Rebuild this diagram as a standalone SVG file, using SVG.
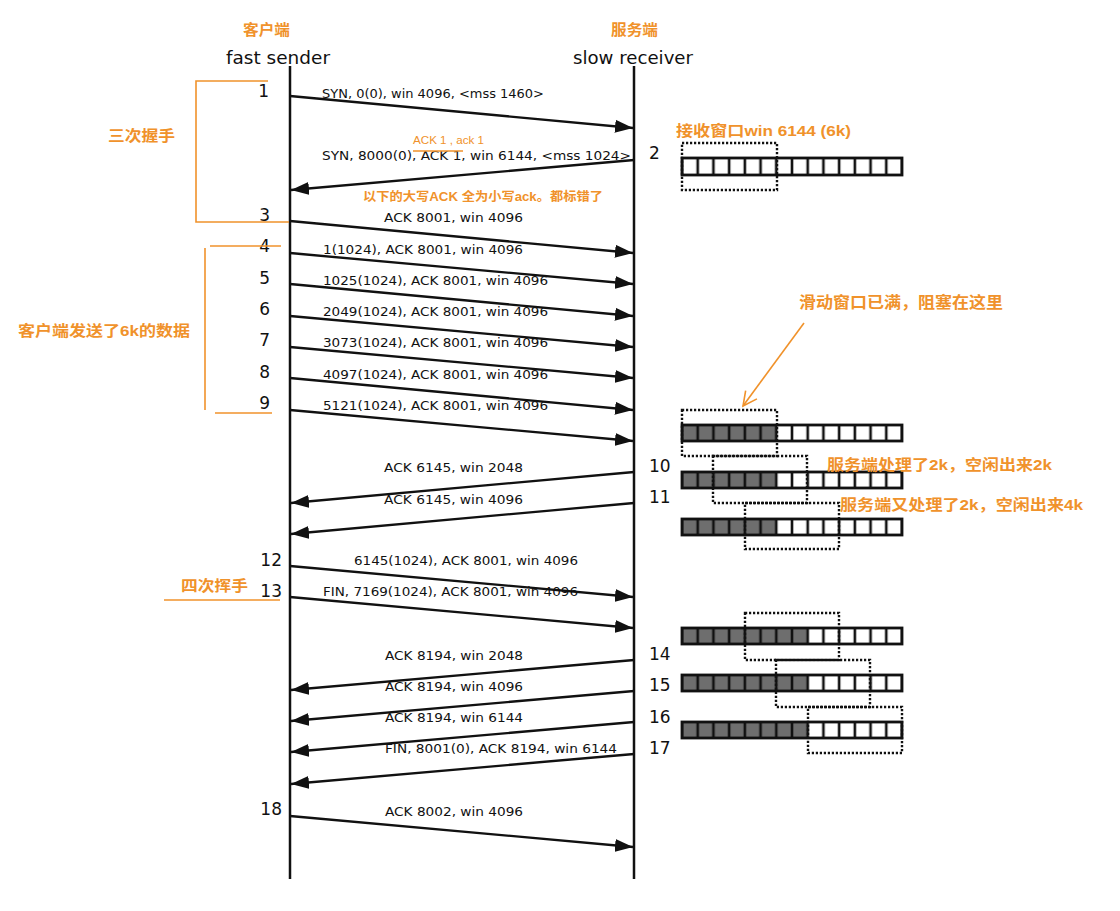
<svg xmlns="http://www.w3.org/2000/svg" width="1120" height="911" viewBox="0 0 1120 911">
<style>
.lbl{font-family:"DejaVu Sans","Liberation Sans",sans-serif;font-size:12px;fill:#111}
.num{font-family:"DejaVu Sans","Liberation Sans",sans-serif;font-size:17px;fill:#111}
.hdr{font-family:"DejaVu Sans","Liberation Sans",sans-serif;font-size:17px;fill:#111}
.or{font-family:"Liberation Sans","Noto Sans CJK SC",sans-serif;font-weight:bold;fill:#F0922B}
.orn{font-family:"Liberation Sans","Noto Sans CJK SC",sans-serif;font-weight:normal;fill:#F0922B}
.ln{stroke:#111;stroke-width:2.5;fill:none}
.msg{stroke:#111;stroke-width:2.3;fill:none;marker-end:url(#ah)}
.orl{stroke:#F0922B;stroke-width:1.6;fill:none}
.win{fill:none;stroke:#111;stroke-width:2.4;stroke-dasharray:2.2 1.8}
.bufo{fill:none;stroke:#111;stroke-width:2.8}
</style>
<defs>
<marker id="ah" markerUnits="userSpaceOnUse" markerWidth="19" markerHeight="14" refX="18" refY="7" orient="auto">
<path d="M0,0.5 L18,7 L0,13.5 z" fill="#111"/>
</marker>
<marker id="oah" markerUnits="userSpaceOnUse" markerWidth="20" markerHeight="20" refX="16" refY="10" orient="auto">
<path d="M2,3 L16,10 L2,17" fill="none" stroke="#F0922B" stroke-width="1.6"/>
</marker>
<pattern id="cW" patternUnits="userSpaceOnUse" x="682" y="0" width="15.714" height="911">
<rect width="15.714" height="911" fill="#fff"/>
<rect x="0" width="1.3" height="911" fill="#111"/>
<rect x="14.414" width="1.3" height="911" fill="#111"/>
</pattern>
<pattern id="cG" patternUnits="userSpaceOnUse" x="682" y="0" width="15.714" height="911">
<rect width="15.714" height="911" fill="#6e6e6e"/>
<rect x="0" width="1.3" height="911" fill="#111"/>
<rect x="14.414" width="1.3" height="911" fill="#111"/>
</pattern>
</defs>
<rect width="1120" height="911" fill="#fff"/>

<g id="client">
<text class="or" x="243" y="35" font-size="15" textLength="47" lengthAdjust="spacingAndGlyphs">客户端</text>
<text class="hdr" x="226" y="64" textLength="104" lengthAdjust="spacingAndGlyphs">fast sender</text>
<line class="ln" x1="290" y1="66" x2="290" y2="879"/>
</g>
<g id="server">
<text class="or" x="611" y="35" font-size="15" textLength="47" lengthAdjust="spacingAndGlyphs">服务端</text>
<text class="hdr" x="573" y="64" textLength="120" lengthAdjust="spacingAndGlyphs">slow receiver</text>
<line class="ln" x1="634" y1="66" x2="634" y2="879"/>
</g>

<g id="connectors">
<line class="msg" x1="290" y1="96" x2="633" y2="128"/>
<line class="msg" x1="634" y1="160" x2="291" y2="190"/>
<line class="msg" x1="290" y1="221" x2="633" y2="253"/>
<line class="msg" x1="290" y1="253" x2="633" y2="284"/>
<line class="msg" x1="290" y1="284" x2="633" y2="316"/>
<line class="msg" x1="290" y1="316" x2="633" y2="347"/>
<line class="msg" x1="290" y1="347" x2="633" y2="378"/>
<line class="msg" x1="290" y1="378" x2="633" y2="410"/>
<line class="msg" x1="290" y1="410" x2="633" y2="441"/>
<line class="msg" x1="634" y1="472" x2="291" y2="503"/>
<line class="msg" x1="634" y1="503" x2="291" y2="534"/>
<line class="msg" x1="290" y1="566" x2="633" y2="597"/>
<line class="msg" x1="290" y1="597" x2="633" y2="628"/>
<line class="msg" x1="634" y1="660" x2="291" y2="690"/>
<line class="msg" x1="634" y1="691" x2="291" y2="721"/>
<line class="msg" x1="634" y1="722" x2="291" y2="752"/>
<line class="msg" x1="634" y1="754" x2="291" y2="784"/>
<line class="msg" x1="290" y1="816" x2="633" y2="847"/>
</g>

<g id="message-labels">
<text class="lbl" x="322" y="98" textLength="222" lengthAdjust="spacingAndGlyphs">SYN, 0(0), win 4096, &lt;mss 1460&gt;</text>
<text class="lbl" x="322" y="160" textLength="309" lengthAdjust="spacingAndGlyphs">SYN, 8000(0), ACK 1, win 6144, &lt;mss 1024&gt;</text>
<text class="lbl" x="384" y="222" textLength="139" lengthAdjust="spacingAndGlyphs">ACK 8001, win 4096</text>
<text class="lbl" x="323" y="254" textLength="200" lengthAdjust="spacingAndGlyphs">1(1024), ACK 8001, win 4096</text>
<text class="lbl" x="323" y="285" textLength="225" lengthAdjust="spacingAndGlyphs">1025(1024), ACK 8001, win 4096</text>
<text class="lbl" x="323" y="316" textLength="225" lengthAdjust="spacingAndGlyphs">2049(1024), ACK 8001, win 4096</text>
<text class="lbl" x="323" y="347" textLength="225" lengthAdjust="spacingAndGlyphs">3073(1024), ACK 8001, win 4096</text>
<text class="lbl" x="323" y="379" textLength="225" lengthAdjust="spacingAndGlyphs">4097(1024), ACK 8001, win 4096</text>
<text class="lbl" x="323" y="410" textLength="225" lengthAdjust="spacingAndGlyphs">5121(1024), ACK 8001, win 4096</text>
<text class="lbl" x="384" y="472" textLength="139" lengthAdjust="spacingAndGlyphs">ACK 6145, win 2048</text>
<text class="lbl" x="384" y="504" textLength="139" lengthAdjust="spacingAndGlyphs">ACK 6145, win 4096</text>
<text class="lbl" x="354" y="565" textLength="224" lengthAdjust="spacingAndGlyphs">6145(1024), ACK 8001, win 4096</text>
<text class="lbl" x="323" y="596" textLength="255" lengthAdjust="spacingAndGlyphs">FIN, 7169(1024), ACK 8001, win 4096</text>
<text class="lbl" x="385" y="660" textLength="138" lengthAdjust="spacingAndGlyphs">ACK 8194, win 2048</text>
<text class="lbl" x="385" y="691" textLength="138" lengthAdjust="spacingAndGlyphs">ACK 8194, win 4096</text>
<text class="lbl" x="385" y="722" textLength="138" lengthAdjust="spacingAndGlyphs">ACK 8194, win 6144</text>
<text class="lbl" x="385" y="753" textLength="232" lengthAdjust="spacingAndGlyphs">FIN, 8001(0), ACK 8194, win 6144</text>
<text class="lbl" x="385" y="816" textLength="138" lengthAdjust="spacingAndGlyphs">ACK 8002, win 4096</text>
</g>

<g id="step-numbers">
<text class="num" x="269" y="97" text-anchor="end">1</text>
<text class="num" x="649" y="159">2</text>
<text class="num" x="270" y="221" text-anchor="end">3</text>
<text class="num" x="270" y="252" text-anchor="end">4</text>
<text class="num" x="270" y="284" text-anchor="end">5</text>
<text class="num" x="270" y="315" text-anchor="end">6</text>
<text class="num" x="270" y="346" text-anchor="end">7</text>
<text class="num" x="270" y="378" text-anchor="end">8</text>
<text class="num" x="270" y="409" text-anchor="end">9</text>
<text class="num" x="649" y="472">10</text>
<text class="num" x="649" y="503">11</text>
<text class="num" x="282" y="566" text-anchor="end">12</text>
<text class="num" x="282" y="597" text-anchor="end">13</text>
<text class="num" x="649" y="660">14</text>
<text class="num" x="649" y="691">15</text>
<text class="num" x="649" y="723">16</text>
<text class="num" x="649" y="754">17</text>
<text class="num" x="282" y="815" text-anchor="end">18</text>
</g>

<g id="buffer-2">
<rect x="682" y="158" width="220" height="17" fill="url(#cW)"/>
<rect class="bufo" x="682" y="158" width="220" height="17"/>
<rect class="win" x="682" y="143" width="95" height="47"/>
</g>
<g id="buffer-9">
<rect x="682" y="425" width="220" height="16" fill="url(#cW)"/>
<rect x="682" y="425" width="94.28" height="16" fill="url(#cG)"/>
<rect class="bufo" x="682" y="425" width="220" height="16"/>
<rect class="win" x="682" y="410" width="95" height="46"/>
</g>
<g id="buffer-10">
<rect x="682" y="472" width="220" height="16" fill="url(#cW)"/>
<rect x="682" y="472" width="94.28" height="16" fill="url(#cG)"/>
<rect class="bufo" x="682" y="472" width="220" height="16"/>
<rect class="win" x="713" y="456" width="94" height="47"/>
</g>
<g id="buffer-11">
<rect x="682" y="519" width="220" height="16" fill="url(#cW)"/>
<rect x="682" y="519" width="94.28" height="16" fill="url(#cG)"/>
<rect class="bufo" x="682" y="519" width="220" height="16"/>
<rect class="win" x="745" y="503" width="94" height="46"/>
</g>
<g id="buffer-14">
<rect x="682" y="628" width="220" height="16" fill="url(#cW)"/>
<rect x="682" y="628" width="125.71" height="16" fill="url(#cG)"/>
<rect class="bufo" x="682" y="628" width="220" height="16"/>
<rect class="win" x="745" y="613" width="94" height="47"/>
</g>
<g id="buffer-15">
<rect x="682" y="675" width="220" height="16" fill="url(#cW)"/>
<rect x="682" y="675" width="125.71" height="16" fill="url(#cG)"/>
<rect class="bufo" x="682" y="675" width="220" height="16"/>
<rect class="win" x="776" y="660" width="94" height="47"/>
</g>
<g id="buffer-16">
<rect x="682" y="722" width="220" height="16" fill="url(#cW)"/>
<rect x="682" y="722" width="125.71" height="16" fill="url(#cG)"/>
<rect class="bufo" x="682" y="722" width="220" height="16"/>
<rect class="win" x="808" y="707" width="94" height="46"/>
</g>

<g id="annotations">
<polyline class="orl" points="268,81 196,81 196,222 289,222"/>
<text class="or" x="108" y="141" font-size="15" textLength="67" lengthAdjust="spacingAndGlyphs">三次握手</text>
<line class="orl" x1="210" y1="246" x2="281" y2="246"/>
<line class="orl" x1="205" y1="248" x2="205" y2="410"/>
<line class="orl" x1="215" y1="413" x2="272" y2="413"/>
<text class="or" x="18" y="336" font-size="15" textLength="172" lengthAdjust="spacingAndGlyphs">客户端发送了6k的数据</text>
<text class="or" x="181" y="591" font-size="15" textLength="67" lengthAdjust="spacingAndGlyphs">四次挥手</text>
<line class="orl" x1="164" y1="600" x2="280" y2="600"/>
<text class="orn" x="413" y="144" font-size="11" textLength="71" lengthAdjust="spacingAndGlyphs">ACK 1 , ack 1</text>
<line class="orl" x1="413" y1="151" x2="463" y2="151"/>
<text class="or" x="363" y="201" font-size="12.5" textLength="240" lengthAdjust="spacingAndGlyphs">以下的大写ACK 全为小写ack。都标错了</text>
<text class="or" x="676" y="136" font-size="15" textLength="175" lengthAdjust="spacingAndGlyphs">接收窗口win 6144 (6k)</text>
<text class="or" x="799" y="308" font-size="15.5" textLength="204" lengthAdjust="spacingAndGlyphs">滑动窗口已满，阻塞在这里</text>
<line class="orl" x1="804" y1="323" x2="743" y2="406" marker-end="url(#oah)"/>
<text class="or" x="827" y="470" font-size="15" textLength="225" lengthAdjust="spacingAndGlyphs">服务端处理了2k，空闲出来2k</text>
<text class="or" x="840" y="510" font-size="15" textLength="243" lengthAdjust="spacingAndGlyphs">服务端又处理了2k，空闲出来4k</text>
</g>
</svg>
